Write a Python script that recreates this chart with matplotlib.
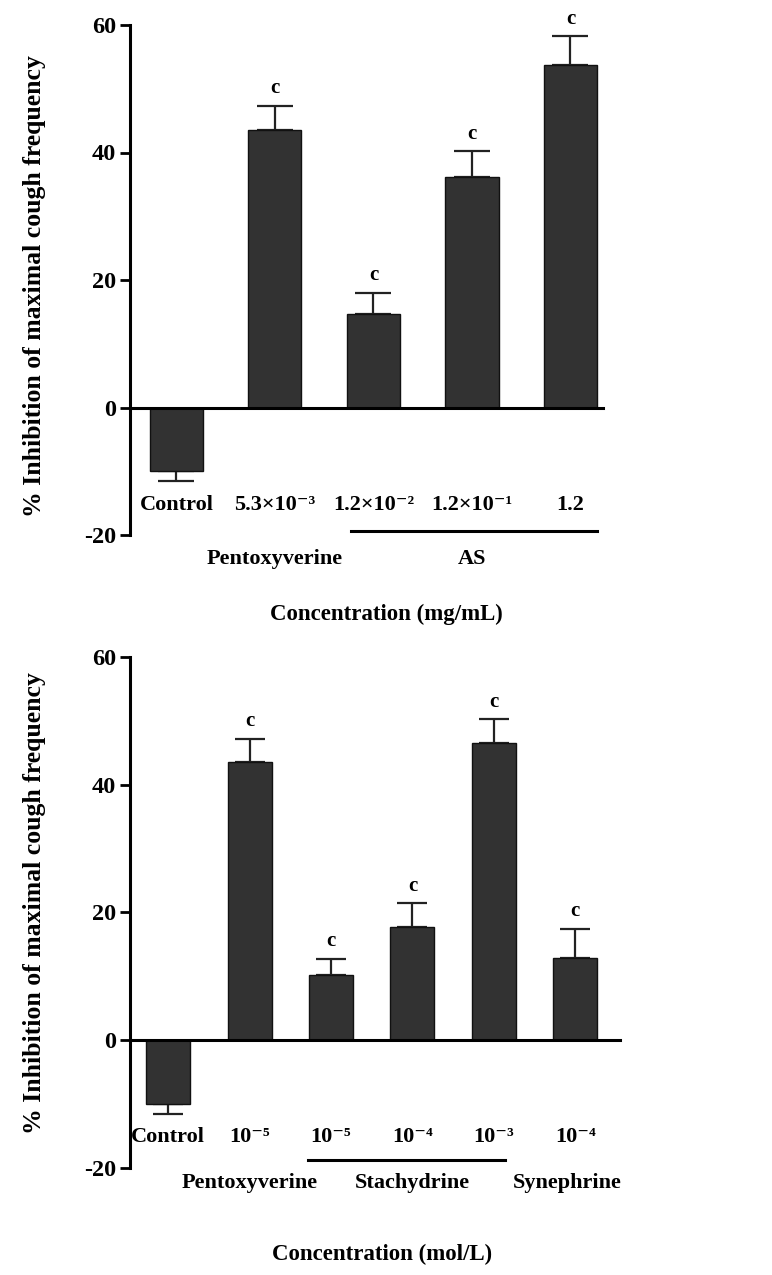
import matplotlib
matplotlib.use("Agg")
import matplotlib.pyplot as plt

plt.rcParams['font.family'] = ['Liberation Serif', 'DejaVu Serif']
plt.rcParams['font.weight'] = 'bold'
plt.rcParams['axes.unicode_minus'] = False

# top panel: extract AS (mg/mL)
top_labels = ["Control", "5.3×10⁻³", "1.2×10⁻²", "1.2×10⁻¹", "1.2"]
top_values = [-10.0, 43.5, 14.7, 36.2, 53.8]
top_errors = [1.6, 3.8, 3.3, 4.0, 4.4]
top_sig = ["", "c", "c", "c", "c"]

# bottom panel: compounds (mol/L)
bot_labels = ["Control", "10⁻⁵", "10⁻⁵", "10⁻⁴", "10⁻³", "10⁻⁴"]
bot_values = [-10.0, 43.6, 10.2, 17.7, 46.6, 12.8]
bot_errors = [1.6, 3.6, 2.5, 3.7, 3.7, 4.6]
bot_sig = ["", "c", "c", "c", "c", "c"]

ylabel = "% Inhibition of maximal cough frequency"
bar_color = "#323232"
fs = 16

fig = plt.figure(figsize=(7.72, 12.75), dpi=100)


def draw_panel(ax, labels, values, errors, sig, capsize, xlim, lab_y):
    x = list(range(len(values)))
    ax.bar(x, values, width=0.54, color=bar_color, edgecolor="#111111",
           linewidth=1.0, zorder=2)
    for xi, v, e in zip(x, values, errors):
        lo, hi = (e, 0) if v < 0 else (0, e)
        ax.errorbar(xi, v, yerr=[[lo], [hi]], fmt="none", ecolor="#222222",
                    elinewidth=1.6, capsize=capsize, capthick=1.6, zorder=1)
    for xi, v, e, s in zip(x, values, errors, sig):
        if s:
            ax.text(xi, v + e + 1.2, s, ha="center", va="bottom",
                    fontsize=15, fontweight="bold")
    for xi, lab in zip(x, labels):
        ax.text(xi, lab_y, lab, ha="center", va="center", fontsize=fs,
                fontweight="bold", clip_on=False)
    ax.set_xlim(*xlim)
    ax.set_ylim(-20, 60)
    ax.set_yticks([-20, 0, 20, 40, 60])
    ax.set_xticks([])
    ax.spines["top"].set_visible(False)
    ax.spines["right"].set_visible(False)
    ax.spines["bottom"].set_position(("data", 0))
    ax.spines["bottom"].set_linewidth(2.2)
    ax.spines["left"].set_linewidth(2.2)
    ax.tick_params(axis="y", length=7, width=2, labelsize=17.5, pad=3)
    for t in ax.get_yticklabels():
        t.set_fontweight("bold")
    ax.set_ylabel(ylabel, fontsize=18.5, fontweight="bold")


# top panel
ax1 = fig.add_axes([130 / 772, 1 - 535 / 1275, 473 / 772, 510 / 1275])
draw_panel(ax1, top_labels, top_values, top_errors, top_sig, 13,
           (-0.47, 4.33), -15.3)
ax1.yaxis.set_label_coords(-0.178, 0.488)
ax1.plot([1.77, 4.27], [-19.4, -19.4], color="black", lw=2.2, clip_on=False)
ax1.text(1, -23.7, "Pentoxyverine", ha="center", va="center", fontsize=fs,
         fontweight="bold", clip_on=False)
ax1.text(3, -23.7, "AS", ha="center", va="center", fontsize=fs,
         fontweight="bold", clip_on=False)
ax1.text(2.13, -32.5, "Concentration (mg/mL)", ha="center", va="center",
         fontsize=16.5, fontweight="bold", clip_on=False)

# bottom panel
ax2 = fig.add_axes([130 / 772, 1 - 1167.5 / 1275, 490 / 772, 510.2 / 1275])
draw_panel(ax2, bot_labels, bot_values, bot_errors, bot_sig, 10.5,
           (-0.47, 5.55), -15.2)
ax2.yaxis.set_label_coords(-0.172, 0.518)
ax2.plot([1.72, 4.14], [-18.9, -18.9], color="black", lw=2.2, clip_on=False)
ax2.text(1, -22.5, "Pentoxyverine", ha="center", va="center", fontsize=fs,
         fontweight="bold", clip_on=False)
ax2.text(3, -22.5, "Stachydrine", ha="center", va="center", fontsize=fs,
         fontweight="bold", clip_on=False)
ax2.text(4.9, -22.5, "Synephrine", ha="center", va="center", fontsize=fs,
         fontweight="bold", clip_on=False)
ax2.text(2.63, -33.7, "Concentration (mol/L)", ha="center", va="center",
         fontsize=16.5, fontweight="bold", clip_on=False)

fig.savefig("out.png", dpi=100)
